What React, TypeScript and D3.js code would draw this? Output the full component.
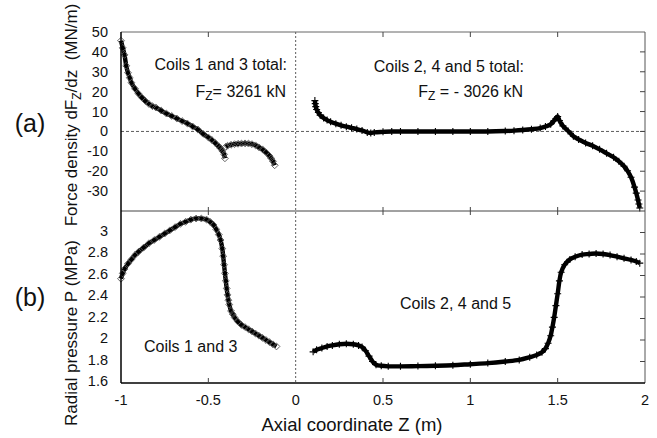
import React from "react";
import * as d3 from "d3";

// panel (a): force density, coils 1 and 3 (two pieces) and coils 2, 4 and 5
const forceX13a = [-1, -0.99, -0.98, -0.97, -0.96, -0.95, -0.94, -0.92, -0.9, -0.88, -0.86, -0.84, -0.82, -0.8, -0.77, -0.74, -0.71, -0.68, -0.65, -0.62, -0.59, -0.56, -0.53, -0.5, -0.48, -0.46, -0.44, -0.43, -0.42, -0.41, -0.405];
const forceY13a = [45.6, 42, 38.5, 33, 29.5, 27, 24.5, 21.5, 19, 17, 15.3, 13.8, 12.7, 12, 10.5, 9, 7.8, 6.5, 5.2, 4, 2.5, 1, -1.2, -3, -4.3, -5.8, -7.5, -8.5, -9.8, -11.5, -13.5];
const forceX13b = [-0.4, -0.39, -0.37, -0.35, -0.33, -0.31, -0.29, -0.27, -0.25, -0.23, -0.21, -0.19, -0.17, -0.15, -0.14, -0.13, -0.12];
const forceY13b = [-7.7, -7.2, -6.7, -6.4, -6.2, -6.1, -6.0, -6.1, -6.4, -7.0, -8.0, -9.0, -10.5, -12.3, -13.5, -15, -17];
const forceX245 = [0.11, 0.112, 0.115, 0.12, 0.13, 0.14, 0.16, 0.18, 0.2, 0.23, 0.26, 0.29, 0.32, 0.35, 0.38, 0.41, 0.43, 0.45, 0.5, 0.55, 0.6, 0.7, 0.8, 0.9, 1.0, 1.1, 1.2, 1.25, 1.3, 1.35, 1.4, 1.43, 1.46, 1.48, 1.49, 1.5, 1.51, 1.53, 1.56, 1.59, 1.62, 1.66, 1.7, 1.74, 1.78, 1.82, 1.85, 1.88, 1.9, 1.92, 1.94, 1.95, 1.96, 1.965, 1.97];
const forceY245 = [15.5, 14, 12.5, 11, 9.5, 8.2, 6.8, 5.7, 4.9, 3.9, 3.1, 2.4, 1.8, 1.2, 0.5, -0.5, -0.8, -0.5, -0.2, 0, 0, 0, 0, 0, 0, 0, 0.2, 0.4, 0.7, 1.1, 1.7, 2.5, 3.6, 5.5, 6.5, 7.5, 5.5, 2.8, 0.2, -2.4, -4, -5.8, -7.2, -9, -11, -13, -15, -17.5, -19.8, -23, -28, -31, -34.5, -36.5, -38.5];

// panel (b): radial pressure
const pressX13 = [-1, -0.99, -0.98, -0.96, -0.94, -0.92, -0.9, -0.87, -0.84, -0.81, -0.78, -0.75, -0.72, -0.69, -0.66, -0.63, -0.6, -0.57, -0.54, -0.51, -0.49, -0.47, -0.455, -0.44, -0.43, -0.42, -0.415, -0.41, -0.405, -0.4, -0.395, -0.39, -0.385, -0.38, -0.37, -0.36, -0.35, -0.33, -0.31, -0.29, -0.27, -0.25, -0.23, -0.21, -0.19, -0.17, -0.15, -0.13, -0.11];
const pressY13 = [2.57, 2.62, 2.66, 2.71, 2.75, 2.79, 2.82, 2.86, 2.9, 2.93, 2.96, 2.99, 3.02, 3.05, 3.08, 3.1, 3.12, 3.13, 3.13, 3.12, 3.1, 3.07, 3.03, 2.98, 2.93, 2.85, 2.78, 2.7, 2.62, 2.55, 2.48, 2.42, 2.37, 2.33, 2.27, 2.24, 2.21, 2.17, 2.14, 2.12, 2.1, 2.08, 2.06, 2.04, 2.02, 2.0, 1.98, 1.96, 1.94];
const pressX245 = [0.1, 0.12, 0.15, 0.18, 0.21, 0.25, 0.29, 0.33, 0.36, 0.38, 0.4, 0.42, 0.44, 0.46, 0.49, 0.53, 0.6, 0.7, 0.8, 0.9, 1.0, 1.1, 1.2, 1.28, 1.34, 1.38, 1.41, 1.43, 1.445, 1.46, 1.47, 1.48, 1.49, 1.5, 1.51, 1.52, 1.54, 1.57, 1.6, 1.64, 1.68, 1.72, 1.76, 1.8, 1.84, 1.88, 1.92, 1.95, 1.97];
const pressY245 = [1.89, 1.91, 1.925, 1.94, 1.95, 1.96, 1.965, 1.96, 1.95, 1.935, 1.9, 1.85, 1.8, 1.77, 1.76, 1.755, 1.755, 1.757, 1.76, 1.765, 1.775, 1.785, 1.8, 1.815, 1.84, 1.86, 1.885, 1.92, 1.97, 2.04, 2.12, 2.21, 2.32, 2.43, 2.55, 2.63, 2.7, 2.75, 2.775, 2.795, 2.8, 2.805, 2.8, 2.79, 2.775, 2.76, 2.745, 2.73, 2.715];

const xTicks = [-1, -0.5, 0, 0.5, 1, 1.5, 2];
const forceTicks = [50, 40, 30, 20, 10, 0, -10, -20, -30];
const pressTicks = [3, 2.8, 2.6, 2.4, 2.2, 2, 1.8, 1.6];

const FONT = "'Liberation Sans', Arial, Helvetica, sans-serif";

const left = 121;
const right = 645;
const top = 32;
const mid = 211;
const bottom = 383;

const zip = (xs: number[], ys: number[]) => xs.map((x, i) => [x, ys[i]] as [number, number]);

export default function App() {
  const x = d3.scaleLinear().domain([-1, 2]).range([left, right]);
  const yA = d3.scaleLinear().domain([-40, 50]).range([mid, top]);
  const yB = d3.scaleLinear().domain([1.6, 3.2]).range([bottom, mid]);

  const lineA = d3.line<[number, number]>().x((d) => x(d[0])).y((d) => yA(d[1])).curve(d3.curveMonotoneX);
  const lineB = d3.line<[number, number]>().x((d) => x(d[0])).y((d) => yB(d[1])).curve(d3.curveCatmullRom);

  const diamond = d3.symbol().type((d3 as any).symbolDiamond2 || d3.symbolDiamond).size(30)()!;
  const plus = "M-3.5,0H3.5M0,-3.5V3.5";

  const series = [
    { pts: zip(forceX13a, forceY13a), y: yA, line: lineA, mark: "d" },
    { pts: zip(forceX13b, forceY13b), y: yA, line: lineA, mark: "d" },
    { pts: zip(forceX245, forceY245), y: yA, line: lineA, mark: "p" },
    { pts: zip(pressX13, pressY13), y: yB, line: lineB, mark: "d" },
    { pts: zip(pressX245, pressY245), y: yB, line: lineB, mark: "p" },
  ];

  const inner = [-0.5, 0.5, 1, 1.5];

  return (
    <svg width={657} height={438} style={{ position: "absolute", left: 0, top: 0, background: "#fff" }} fontFamily={FONT}>
      <rect width={657} height={438} fill="#fff" />
      {/* dashed zero lines */}
      <line x1={left} x2={right} y1={yA(0)} y2={yA(0)} stroke="#333" strokeWidth={0.8} strokeDasharray="3,2" />
      <line x1={x(0)} x2={x(0)} y1={top} y2={bottom} stroke="#333" strokeWidth={0.8} strokeDasharray="2,2" />

      {/* curves */}
      {series.map((s, i) => (
        <g key={i}>
          <path d={s.line(s.pts)!} fill="none" stroke="#000" strokeWidth={4.4} />
          {s.pts.map((p, j) =>
            s.mark === "d" ? (
              <path key={j} d={diamond} transform={`translate(${x(p[0])},${s.y(p[1])})`} fill="none" stroke="#555" strokeWidth={0.9} />
            ) : (
              <path key={j} d={plus} transform={`translate(${x(p[0])},${s.y(p[1])})`} fill="none" stroke="#000" strokeWidth={1.1} />
            )
          )}
        </g>
      ))}

      {/* frame */}
      <line x1={left} x2={right} y1={top} y2={top} stroke="#666" strokeWidth={1} />
      <line x1={right} x2={right} y1={top} y2={bottom} stroke="#555" strokeWidth={1} />
      <line x1={left} x2={right} y1={mid} y2={mid} stroke="#444" strokeWidth={1} />
      <line x1={left} x2={left} y1={top} y2={bottom} stroke="#000" strokeWidth={1.5} />
      <line x1={left} x2={right} y1={bottom} y2={bottom} stroke="#000" strokeWidth={1.5} />

      {inner.map((t) => (
        <g key={t} stroke="#444" strokeWidth={1}>
          <line x1={x(t)} x2={x(t)} y1={top} y2={top + 5} />
          <line x1={x(t)} x2={x(t)} y1={mid - 4} y2={mid + 4} />
          <line x1={x(t)} x2={x(t)} y1={bottom} y2={bottom - 5} />
        </g>
      ))}
      {forceTicks.slice(1).map((t) => (
        <line key={"fa" + t} x1={right} x2={right - 5} y1={yA(t)} y2={yA(t)} stroke="#444" />
      ))}
      {pressTicks.slice(0, -1).map((t) => (
        <line key={"pb" + t} x1={right} x2={right - 5} y1={yB(t)} y2={yB(t)} stroke="#444" />
      ))}

      {/* tick labels */}
      <g fontSize={14.5} fill="#111">
        {forceTicks.map((t) => (
          <text key={"fl" + t} x={108} y={yA(t) + 5} textAnchor="end">{t}</text>
        ))}
        {pressTicks.map((t) => (
          <text key={"pl" + t} x={108} y={yB(t) + 3} textAnchor="end">{t}</text>
        ))}
        {xTicks.map((t) => (
          <text key={"xl" + t} x={x(t)} y={405} textAnchor="middle">{t}</text>
        ))}
      </g>

      {/* axis titles */}
      <text transform="translate(77,115) rotate(-90)" textAnchor="middle" fontSize={17} fill="#111">
        Force density dF<tspan fontSize={12} dy={4}>Z</tspan><tspan dy={-4}>{"/dz\u00a0\u00a0(MN/m)"}</tspan>
      </text>
      <text transform="translate(77,333) rotate(-90)" textAnchor="middle" fontSize={17} fill="#111">
        Radial pressure P (MPa)
      </text>
      <text x={352} y={431} textAnchor="middle" fontSize={18.5} fill="#111">Axial coordinate Z (m)</text>
      <text x={30} y={132} textAnchor="middle" fontSize={25} fill="#111">(a)</text>
      <text x={30} y={306} textAnchor="middle" fontSize={25} fill="#111">(b)</text>

      {/* annotations */}
      <g fontSize={16} fill="#111">
        <text x={287} y={70} textAnchor="end">Coils 1 and 3 total:</text>
        <text x={286} y={97} textAnchor="end">
          F<tspan fontSize={12} dy={3}>Z</tspan><tspan dy={-3}>= 3261 kN</tspan>
        </text>
        <text x={524} y={72} textAnchor="end">Coils 2, 4 and 5 total:</text>
        <text x={523} y={97} textAnchor="end">
          F<tspan fontSize={12} dy={3}>Z</tspan><tspan dy={-3}> = - 3026 kN</tspan>
        </text>
        <text x={144} y={352}>Coils 1 and 3</text>
        <text x={400} y={309}>Coils 2, 4 and 5</text>
      </g>
    </svg>
  );
}
